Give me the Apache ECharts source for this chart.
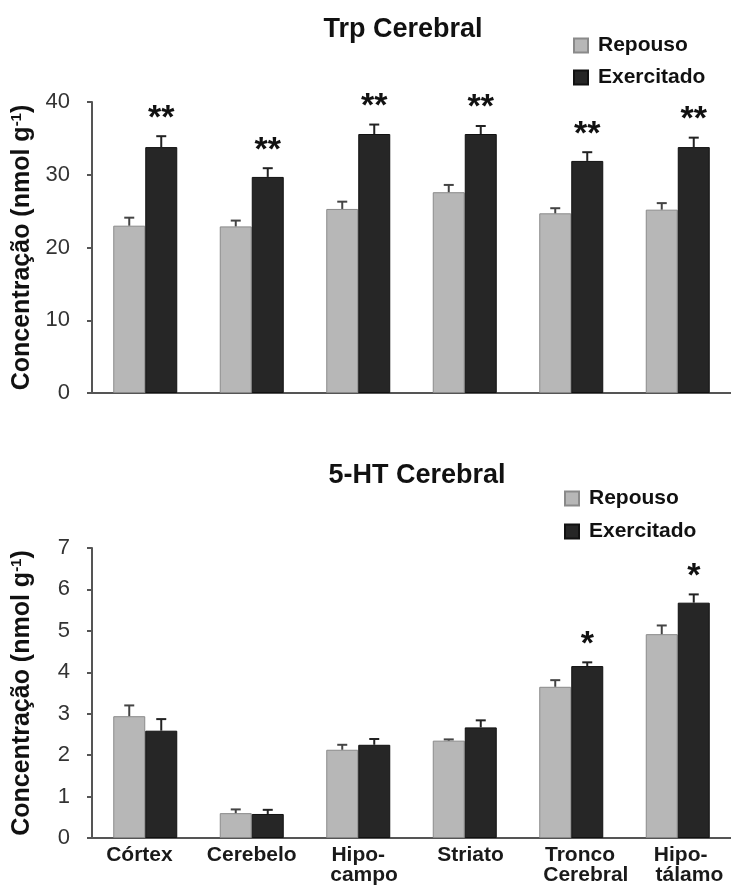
<!DOCTYPE html>
<html><head><meta charset="utf-8">
<script src="https://cdn.jsdelivr.net/npm/echarts@6/dist/echarts.min.js"></script>
<style>html,body{margin:0;padding:0;background:#fff}#c{width:731px;height:886px}</style>
</head><body><div id="c"></div>
<script>
// ---- data ----
const categories = ['Córtex', 'Cerebelo', 'Hipocampo', 'Striato', 'Tronco Cerebral', 'Hipotálamo'];
const categoryLabels = ['Córtex  ', 'Cerebelo', '  Hipo-  \n  campo', '  Striato', '     Tronco  \n     Cerebral', '    Hipo-   \n    tálamo'];
const seriesNames = ['Repouso', 'Exercitado'];
const chartTitles = ['Trp Cerebral', '5-HT Cerebral'];

const trpRepouso = [23.0, 22.9, 25.3, 27.6, 24.7, 25.2];
const trpRepousoErr = [1.1, 0.8, 1.0, 1.0, 0.7, 0.9];
const trpExercitado = [33.8, 29.7, 35.6, 35.6, 31.9, 33.8];
const trpExercitadoErr = [1.5, 1.2, 1.3, 1.1, 1.2, 1.3];
const trpSig = ['**', '**', '**', '**', '**', '**'];
const trpTicks = [0, 10, 20, 30, 40];

const htRepouso = [2.94, 0.60, 2.13, 2.35, 3.65, 4.92];
const htRepousoErr = [0.26, 0.09, 0.12, 0.03, 0.16, 0.21];
const htExercitado = [2.59, 0.58, 2.25, 2.67, 4.15, 5.68];
const htExercitadoErr = [0.28, 0.10, 0.14, 0.17, 0.09, 0.20];
const htSig = ['', '', '', '', '*', '*'];
const htTicks = [0, 1, 2, 3, 4, 5, 6, 7];

// ---- style ----
const FONT = '"Liberation Sans", Arial, Helvetica, sans-serif';
const BAR_W = 32;
const GRAY = '#b7b7b7', GRAY_BORDER = '#8a8a8a';
const DARK = '#262626', DARK_BORDER = '#111111';
const AXIS = '#555555';

function errRender(vals, errs, sigs, side, color) {
  return function (params, api) {
    const i = params.dataIndex;
    const p0 = api.coord([i, vals[i]]);
    const p1 = api.coord([i, vals[i] + errs[i]]);
    const x = p0[0] + side * BAR_W / 2;
    const st = { stroke: color, lineWidth: 2 };
    const children = [
      { type: 'line', shape: { x1: x, y1: p0[1], x2: x, y2: p1[1] }, style: st },
      { type: 'line', shape: { x1: x - 5, y1: p1[1], x2: x + 5, y2: p1[1] }, style: st }
    ];
    if (sigs && sigs[i]) {
      children.push({ type: 'text', x: x, y: p1[1] - 1,
        style: { text: sigs[i], align: 'center', verticalAlign: 'bottom',
          font: 'bold 34px ' + FONT, fill: '#111' } });
    }
    return { type: 'group', children: children };
  };
}

function yAxis(gi, ticks) {
  return {
    gridIndex: gi, type: 'value',
    min: ticks[0], max: ticks[ticks.length - 1], interval: ticks[1] - ticks[0],
    axisLine: { show: true, lineStyle: { color: AXIS, width: 2 } },
    axisTick: { show: true, length: 5, lineStyle: { color: AXIS, width: 2 } },
    splitLine: { show: false },
    axisLabel: { fontSize: 22, color: '#333', margin: 22, fontFamily: FONT },
    name: '{a|Concentração (nmol g}{s|-1}{a|)}',
    nameLocation: 'middle', nameGap: 57, nameRotate: 90,
    nameTextStyle: {
      rich: {
        a: { fontSize: 25, fontWeight: 'bold', fontFamily: FONT, color: '#111' },
        s: { fontSize: 15, fontWeight: 'bold', fontFamily: FONT, color: '#111', verticalAlign: 'top', padding: [0, 0, 11, 0] }
      }
    }
  };
}

function xAxis(gi, showLabels) {
  return {
    gridIndex: gi, type: 'category', data: categoryLabels,
    axisLine: { lineStyle: { color: AXIS, width: 2 } },
    axisTick: { show: false },
    axisLabel: { show: showLabels, interval: 0, fontSize: 21, fontWeight: 'bold',
      color: '#1a1a1a', fontFamily: FONT, margin: 7, lineHeight: 20 }
  };
}

function bars(gi, name, vals, color, border) {
  return { type: 'bar', name: name, xAxisIndex: gi, yAxisIndex: gi, data: vals,
    barWidth: BAR_W, barGap: '0%',
    itemStyle: { color: color, borderColor: border, borderWidth: 1 } };
}

function errSeries(gi, vals, errs, sigs, side, color) {
  return { type: 'custom', xAxisIndex: gi, yAxisIndex: gi, z: 5,
    data: vals.map((v, i) => [i, v + errs[i]]), encode: { x: 0, y: 1 },
    renderItem: errRender(vals, errs, sigs, side, color), silent: true };
}

const legendCommon = {
  orient: 'vertical', itemWidth: 14, itemHeight: 14, icon: 'rect', padding: 0,
  data: seriesNames, selectedMode: false,
  textStyle: { fontSize: 21, fontWeight: 'bold', color: '#111', fontFamily: FONT, lineHeight: 20, padding: [0, 0, 0, 5] }
};

const chart = echarts.init(document.getElementById('c'), null, { renderer: 'canvas' });
chart.setOption({
  backgroundColor: '#fff',
  animation: false,
  title: [
    { text: chartTitles[0], left: 403, top: 16, textAlign: 'center', padding: 0,
      textStyle: { fontSize: 27, fontWeight: 'bold', color: '#111', fontFamily: FONT } },
    { text: chartTitles[1], left: 417, top: 462, textAlign: 'center', padding: 0,
      textStyle: { fontSize: 27, fontWeight: 'bold', color: '#111', fontFamily: FONT } }
  ],
  legend: [
    Object.assign({ left: 573, top: 35, itemGap: 11 }, legendCommon),
    Object.assign({ left: 564, top: 488, itemGap: 12 }, legendCommon)
  ],
  grid: [
    { left: 92, right: -9, top: 102, height: 291 },
    { left: 92, right: -9, top: 548, height: 290 }
  ],
  xAxis: [xAxis(0, false), xAxis(1, true)],
  yAxis: [yAxis(0, trpTicks), yAxis(1, htTicks)],
  series: [
    bars(0, seriesNames[0], trpRepouso, GRAY, GRAY_BORDER),
    bars(0, seriesNames[1], trpExercitado, DARK, DARK_BORDER),
    bars(1, seriesNames[0], htRepouso, GRAY, GRAY_BORDER),
    bars(1, seriesNames[1], htExercitado, DARK, DARK_BORDER),
    errSeries(0, trpRepouso, trpRepousoErr, null, -1, '#444'),
    errSeries(0, trpExercitado, trpExercitadoErr, trpSig, 1, '#222'),
    errSeries(1, htRepouso, htRepousoErr, null, -1, '#444'),
    errSeries(1, htExercitado, htExercitadoErr, htSig, 1, '#222')
  ]
});
</script>
</body></html>
